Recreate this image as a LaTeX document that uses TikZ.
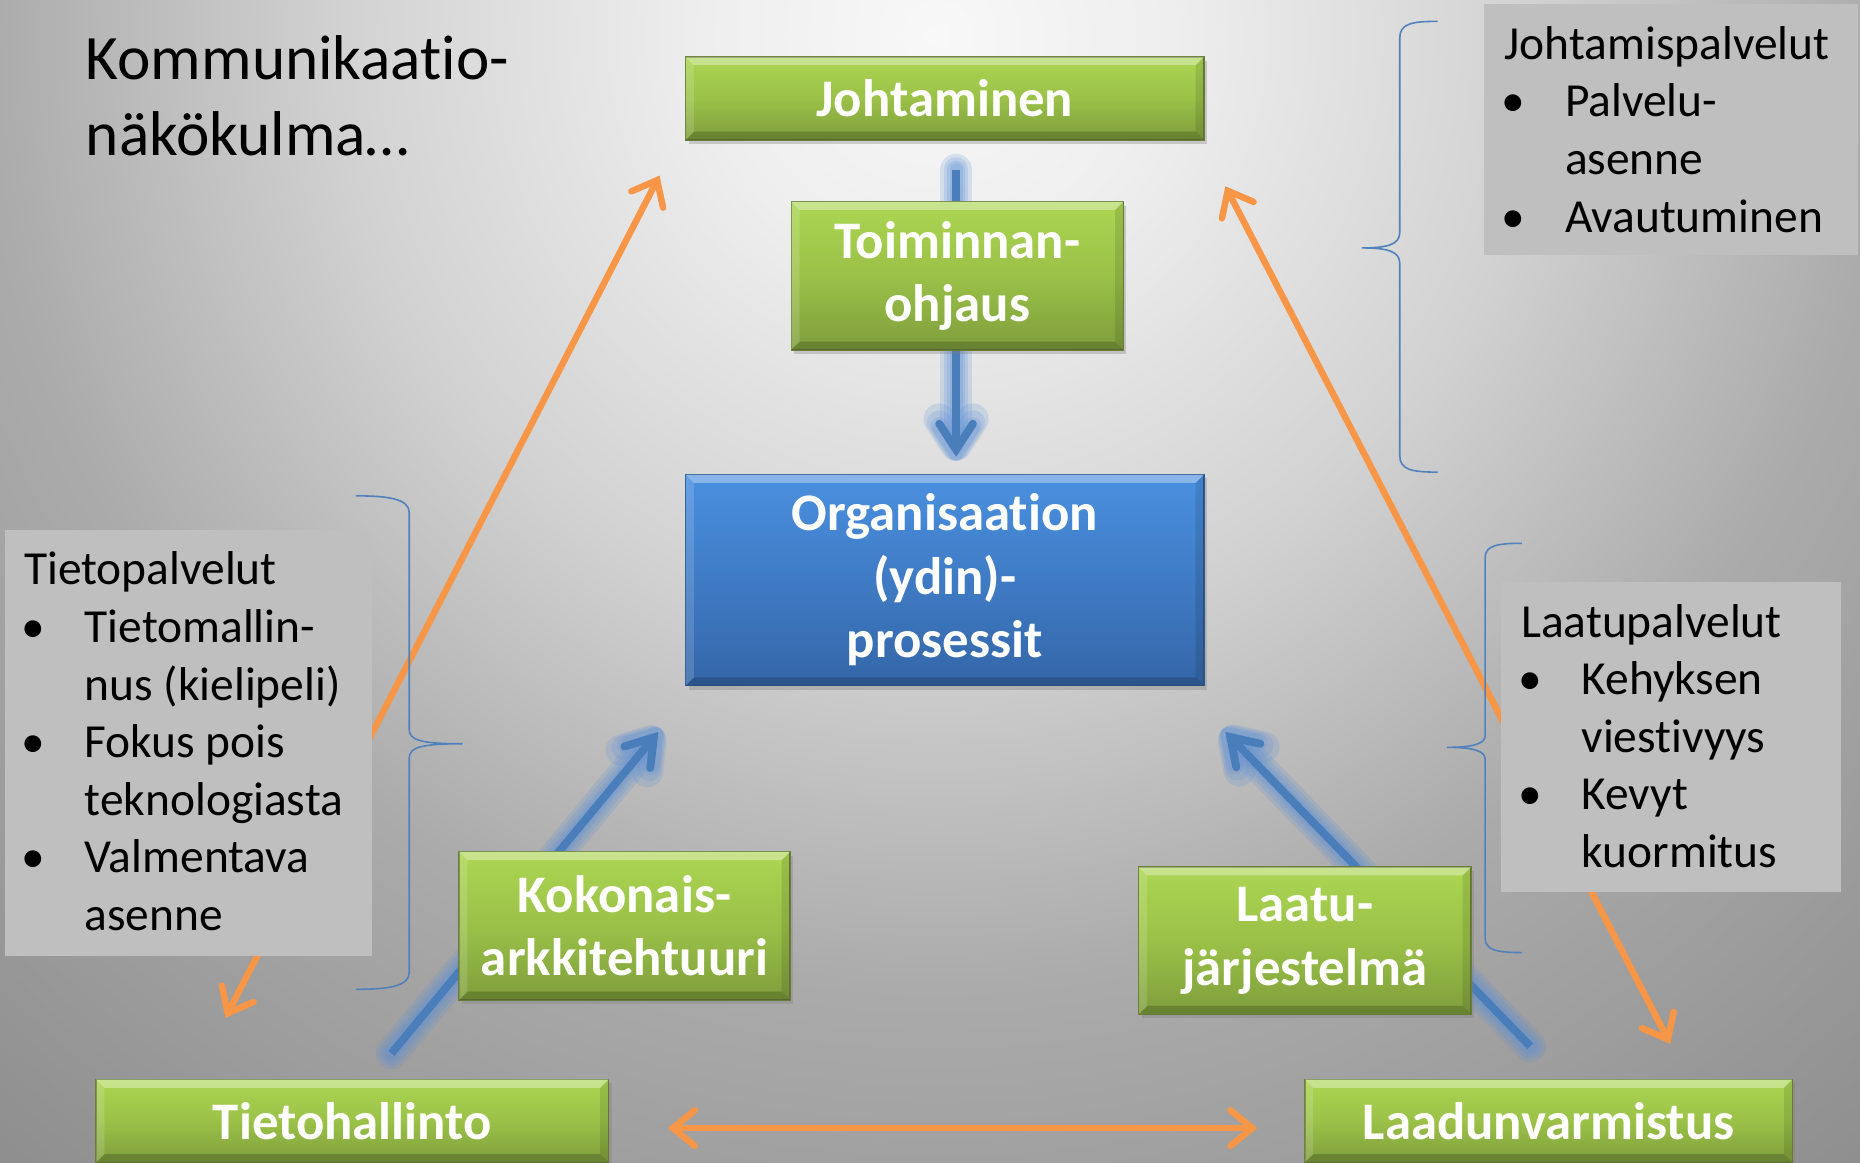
\documentclass[tikz,border=0pt]{standalone}
\usepackage{fontspec}
\setmainfont{Carlito}[Ligatures={NoCommon}]
\usetikzlibrary{arrows.meta,shadows,calc}

\definecolor{bg0}{HTML}{F8F8F8}
\definecolor{bg1}{HTML}{EEEEEE}
\definecolor{bg2}{HTML}{D2D2D2}
\definecolor{bg3}{HTML}{ABABAB}
\definecolor{bg4}{HTML}{8A8A8A}
\definecolor{grT}{HTML}{ABD652}
\definecolor{grM}{HTML}{9BC148}
\definecolor{grB}{HTML}{7E9E3C}
\definecolor{grE}{HTML}{6B7F3A}
\definecolor{blT}{HTML}{4A90E0}
\definecolor{blB}{HTML}{3466A8}
\definecolor{blE}{HTML}{2F5A8F}
\definecolor{arrBlue}{HTML}{4A7EBB}
\definecolor{glowC}{HTML}{5B8FD6}
\definecolor{arrOrange}{HTML}{F79646}
\definecolor{boxGray}{HTML}{BFBFBF}
\definecolor{braceBlue}{HTML}{4F81BD}

\pgfdeclareradialshading{bgshade}{\pgfpoint{0bp}{0bp}}{color(0bp)=(bg0); color(3.8bp)=(bg1); color(9.6bp)=(bg2); color(15.4bp)=(bg3); color(25bp)=(bg4); color(50bp)=(bg4)}

\newcommand\bul{\makebox[30.6pt][l]{\makebox[9pt][c]{•}}}
\newcommand\ind{\hspace*{30.6pt}}
\newcommand\bevelbox[1]{%
  \fill[white,opacity=0.35] (#1.north west) -- (#1.north east) -- ($(#1.north east)+(-7,7)$) -- ($(#1.north west)+(7,7)$) -- cycle;
  \fill[white,opacity=0.15] (#1.north west) -- ($(#1.north west)+(7,7)$) -- ($(#1.south west)+(7,-7)$) -- (#1.south west) -- cycle;
  \fill[black,opacity=0.18] (#1.south west) -- ($(#1.south west)+(7,-7)$) -- ($(#1.south east)+(-7,-7)$) -- (#1.south east) -- cycle;
  \fill[black,opacity=0.10] (#1.north east) -- (#1.south east) -- ($(#1.south east)+(-7,-7)$) -- ($(#1.north east)+(-7,7)$) -- cycle;
}

\tikzset{
  labeltext/.style={text=white, font=\bfseries\fontsize{26.7}{32.1}\selectfont, align=center, inner sep=0pt, outer sep=0pt},
  greenbox/.style={labeltext, top color=grT, bottom color=grB, middle color=grM, draw=grE, line width=0.7pt,
     drop shadow={shadow xshift=1.5pt, shadow yshift=-2pt, opacity=0.35}},
  bluebox/.style={labeltext, top color=blT, bottom color=blB, draw=blE, line width=0.7pt,
     drop shadow={shadow xshift=1.5pt, shadow yshift=-2pt, opacity=0.35}},
  graytext/.style={font=\fontsize{24}{29.1}\selectfont, align=left, inner sep=0pt, anchor=north west},
  titletext/.style={font=\fontsize{32}{38.4}\selectfont, align=left, inner sep=0pt, anchor=north west},
  orangearr/.style={draw=arrOrange, line width=3.3pt,
     {Straight Barb[length=11pt,width=18pt,line cap=round,line join=miter]}-{Straight Barb[length=11pt,width=18pt,line cap=round,line join=miter]}},
  bluearr/.style={draw=arrBlue, line width=4pt, -{Straight Barb[length=13pt,width=17pt,line cap=round,line join=miter]}},
  glowline/.style={draw=glowC, opacity=0.2, line width=#1, line cap=round, shorten >=-2pt,
     -{Straight Barb[length=13pt,width=17pt,round]}},
  bracestyle/.style={draw=braceBlue, line width=0.8pt},
  grayfill/.style={fill=boxGray, draw=none}
}

\begin{document}
\begin{tikzpicture}[x=0.6pt,y=-0.6pt]
\useasboundingbox (0,0) rectangle (1568,980);
\begin{scope}
  \clip (0,0) rectangle (1568,980);
  \shade[shading=bgshade] (790,30) circle (1300);
\end{scope}

% connector end points
\coordinate (oa1) at (190,858);
\coordinate (oa2) at (556,148);
\coordinate (ob1) at (1408,880);
\coordinate (ob2) at (1033,157);
\coordinate (oc1) at (563,951);
\coordinate (oc2) at (1060,951);
\coordinate (bv1) at (806,143);
\coordinate (bv2) at (806,385);
\coordinate (bl1) at (330,888);
\coordinate (bl2) at (555,617);
\coordinate (br1) at (1290,882);
\coordinate (br2) at (1033,617);

% orange arrows
\draw[orangearr] (oa1) -- (oa2);
\draw[orangearr] (ob1) -- (ob2);
\draw[orangearr] (oc1) -- (oc2);

% braces
\draw[bracestyle] (1212,18) .. controls (1190,18) and (1180,20) .. (1180,32) -- (1180,196)
   .. controls (1180,206) and (1170,209) .. (1148,209) .. controls (1170,209) and (1180,212) .. (1180,222)
   -- (1180,384) .. controls (1180,396) and (1190,398) .. (1212,398);
\draw[bracestyle] (300,418) .. controls (325,418) and (345,420) .. (345,432) -- (345,615)
   .. controls (345,624) and (355,627) .. (390,627) .. controls (355,627) and (345,630) .. (345,639)
   -- (345,820) .. controls (345,832) and (325,834) .. (300,834);
\draw[bracestyle] (1283,458) .. controls (1262,458) and (1252,460) .. (1252,470) -- (1252,620)
   .. controls (1252,627) and (1242,630) .. (1220,630) .. controls (1242,630) and (1252,633) .. (1252,640)
   -- (1252,791) .. controls (1252,801) and (1262,803) .. (1283,803);

% blue arrows with soft glow
\foreach \w in {16pt,12.5pt,9pt,6.5pt}{
  \draw[glowline=\w] (bv1) -- (bv2);
  \draw[glowline=\w] (bl1) -- (bl2);
  \draw[glowline=\w] (br1) -- (br2);
}
\draw[bluearr] (bv1) -- (bv2);
\draw[bluearr] (bl1) -- (bl2);
\draw[bluearr] (br1) -- (br2);

% boxes
\node[greenbox, minimum width=262.2pt, minimum height=42pt] (johto) at (796.5,83) {Johtaminen};
\bevelbox{johto}
\node[greenbox, minimum width=168pt, minimum height=75pt] (toim) at (807,232.5) {Toiminnan-\\ohjaus};
\bevelbox{toim}
\node[bluebox, minimum width=262.2pt, minimum height=106.8pt] (org) at (796.5,489) {Organisaation\\(ydin)-\\prosessit};
\bevelbox{org}
\node[greenbox, minimum width=167.4pt, minimum height=75pt] (koko) at (526.5,780.5) {Kokonais-\\arkkitehtuuri};
\bevelbox{koko}
\node[greenbox, minimum width=168pt, minimum height=74.4pt] (laatu) at (1100,793) {Laatu-\\järjestelmä};
\bevelbox{laatu}
\node[greenbox, minimum width=259.2pt, minimum height=42pt] (tieto) at (297,945) {Tietohallinto};
\bevelbox{tieto}
\node[greenbox, minimum width=246.6pt, minimum height=42pt] (laadun) at (1305.5,945) {Laadunvarmistus};
\bevelbox{laadun}

% gray text boxes
\fill[grayfill] (1251,3) rectangle (1566,215);
\fill[grayfill] (4,447) rectangle (314,806);
\fill[grayfill] (1265,491) rectangle (1552,752);

\node[graytext] (tJ) at (1268,22) {Johtamispalvelut\\\bul Palvelu-\\\ind asenne\\\bul Avautuminen};
\node[graytext] (tT) at (20,465) {Tietopalvelut\\\bul Tietomallin-\\\ind nus (kielipeli)\\\bul Fokus pois\\\ind teknologiasta\\\bul Valmentava\\\ind asenne};
\node[graytext] (tL) at (1282,509) {Laatupalvelut\\\bul Kehyksen\\\ind viestivyys\\\bul Kevyt\\\ind kuormitus};

% title
\node[titletext] (title) at (72,30) {Kommunikaatio-\\näkökulma…};
\end{tikzpicture}
\end{document}
